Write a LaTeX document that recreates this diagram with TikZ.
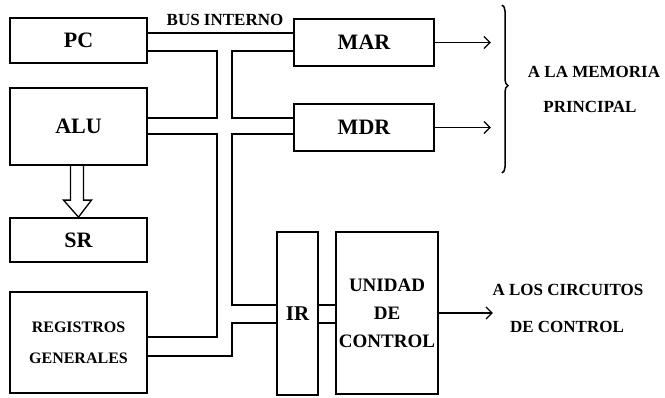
\documentclass[tikz,border=0pt]{standalone}
\usepackage{fontspec}
\setmainfont{Liberation Serif}
\usetikzlibrary{arrows.meta,calc,decorations.pathreplacing}
\begin{document}
\begin{tikzpicture}[x=1pt,y=-1pt,
  box/.style={draw,line width=1.8pt,inner sep=0pt,font=\bfseries\fontsize{22}{24}\selectfont},
  bus/.style={line width=1.3pt},
  arr/.style={line width=1.3pt,-{Straight Barb[length=6pt,width=12pt,line width=1.3pt]}},
  lbl/.style={font=\bfseries\fontsize{17}{19}\selectfont,inner sep=0pt}]
\useasboundingbox (0,0) rectangle (665,397);
\node[box,minimum width=137pt,minimum height=45pt] (pc) at (78.5,40.5) {PC};
\node[box,minimum width=137pt,minimum height=77pt] (alu) at (78.5,126.5) {ALU};
\node[box,minimum width=137pt,minimum height=44pt] (sr) at (78.5,240) {SR};
\node[box,minimum width=137pt,minimum height=101pt,align=center,font=\bfseries\fontsize{16}{31}\selectfont] (reg) at (78.5,342.5) {REGISTROS\\GENERALES};
\node[box,minimum width=140pt,minimum height=47pt] (mar) at (364,42.5) {MAR};
\node[box,minimum width=140pt,minimum height=47pt] (mdr) at (364,127.5) {MDR};
\node[box,minimum width=41pt,minimum height=163pt,font=\bfseries\fontsize{21}{24}\selectfont] (ir) at (297.5,313.5) {IR};
\node[box,minimum width=102pt,minimum height=162pt,align=center,font=\bfseries\fontsize{19}{28}\selectfont] (uc) at (387,313) {UNIDAD\\DE\\CONTROL};
\node[lbl] (bus) at (225,20) {BUS INTERNO};
\node[lbl] (mem1) at (594,72) {A LA MEMORIA};
\node[lbl] (mem2) at (590,107) {PRINCIPAL};
\node[lbl] (cc1) at (568,290) {A LOS CIRCUITOS};
\node[lbl] (cc2) at (567,327) {DE CONTROL};
% bus lines
\draw[bus] (pc.east|-0,33) -- (mar.west|-0,33);
\draw[bus] (pc.east|-0,51) -- (217,51) -- (217,118) -- (alu.east|-0,118);
\draw[bus] (mar.west|-0,51) -- (232,51) -- (232,118) -- (mdr.west|-0,118);
\draw[bus] (alu.east|-0,134) -- (217,134) -- (217,337) -- (reg.east|-0,337);
\draw[bus] (mdr.west|-0,134) -- (232,134) -- (232,305) -- (ir.west|-0,305);
\draw[bus] (reg.east|-0,356) -- (232,356) -- (232,323) -- (ir.west|-0,323);
\draw[bus] (ir.east|-0,305) -- (uc.west|-0,305);
\draw[bus] (ir.east|-0,323) -- (uc.west|-0,323);
% output arrows
\draw[arr] (mar.east) -- ++(56,0) coordinate (marout);
\draw[arr] (mdr.east) -- ++(56,0) coordinate (mdrout);
\draw[arr] (uc.east) -- ++(54,0) coordinate (ucout);
% hollow arrow ALU -> SR
\draw[line width=1.3pt,line join=miter] ($(alu.south)+(-8,0)$) -- ($(sr.north)+(-8,-17)$) -- ($(sr.north)+(-15,-17)$) -- (sr.north) -- ($(sr.north)+(13,-17)$) -- ($(sr.north)+(5,-17)$) -- ($(alu.south)+(5,0)$);
% brace
\draw[line width=1.5pt,decorate,decoration={brace,amplitude=6pt,aspect=0.48}] (502,5) -- (502,173);
\end{tikzpicture}
\end{document}
